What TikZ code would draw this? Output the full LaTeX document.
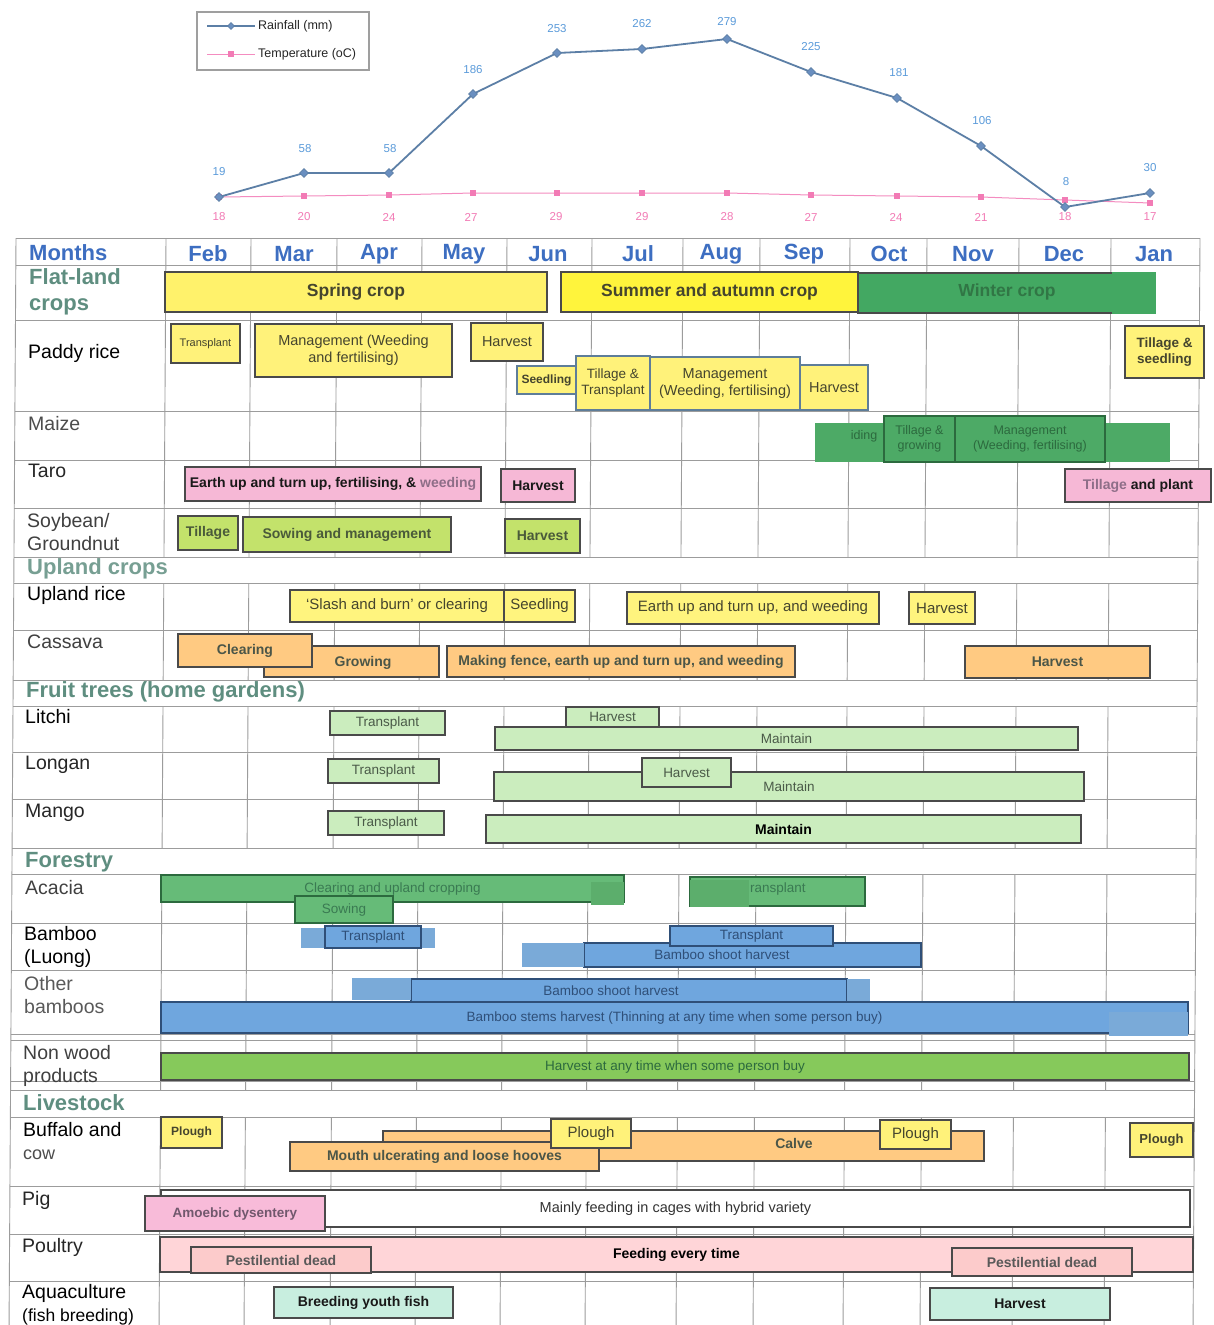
\documentclass[tikz,border=0pt]{standalone}
\usepackage{fontspec}
\setmainfont{Liberation Sans}
\usetikzlibrary{shapes.geometric}
\newcommand{\fsz}[2]{\fontsize{#1}{#2}\selectfont}
% bar node from its corner coordinates: name, x1, y1, x2, y2, style, text
\newcommand{\gbar}[7]{\node[#6, minimum width={#4pt-#2pt}, minimum height={#5pt-#3pt}] (#1) at ({(#2+#4)/2},{(#3+#5)/2}) {#7};}
\definecolor{gridc}{HTML}{9C9C9C}
\definecolor{boxln}{HTML}{4A4A4A}
\definecolor{cropY}{HTML}{FFF26B}
\definecolor{sumY}{HTML}{FFF43C}
\definecolor{padY}{HTML}{FFF27A}
\definecolor{winG}{HTML}{43A862}
\definecolor{maizeG}{HTML}{4DAA66}
\definecolor{taroP}{HTML}{F6B8D6}
\definecolor{taroW}{HTML}{8E6E88}
\definecolor{soyG}{HTML}{C3E26B}
\definecolor{uplY}{HTML}{FFF47E}
\definecolor{cassO}{HTML}{FFCA82}
\definecolor{fruitG}{HTML}{CBEDBE}
\definecolor{acaG}{HTML}{66BB78}
\definecolor{acaC}{HTML}{5CAE6C}
\definecolor{bambB}{HTML}{6FA6DE}
\definecolor{bambC}{HTML}{7AAAD8}
\definecolor{nwG}{HTML}{86C95B}
\definecolor{pigP}{HTML}{F8BBD9}
\definecolor{poulP}{HTML}{FFD5D8}
\definecolor{pestP}{HTML}{FCCBCB}
\definecolor{fishM}{HTML}{C8EEDF}
\definecolor{monthB}{HTML}{3D6EC1}
\definecolor{secG}{HTML}{5F8E80}
\definecolor{rainL}{HTML}{5C7FA6}
\definecolor{rainM}{HTML}{6A8FC0}
\definecolor{rainT}{HTML}{5B9BDA}
\definecolor{tempL}{HTML}{F48CC0}
\definecolor{tempT}{HTML}{F27BB5}
\definecolor{olT}{HTML}{45452E}
\definecolor{winT}{HTML}{2C6A3E}
\definecolor{soyT}{HTML}{4A5A3A}
\definecolor{cassT}{HTML}{4B5648}
\definecolor{fruT}{HTML}{4A5A48}
\definecolor{acaT}{HTML}{3A7A52}
\definecolor{bamT}{HTML}{2F4F78}
\definecolor{padB}{HTML}{5E7D99}
\begin{document}
\begin{tikzpicture}[x=1pt, y=-1pt,
  tline/.style={draw=gridc, line width=0.9pt},
  bx/.style={draw=boxln, line width=1.1pt, inner sep=1pt, align=center, text=olT, font=\fsz{14}{16}\bfseries},
  patch/.style={draw=none, inner sep=0pt},
  pbx/.style={bx, fill=padY, font=\fsz{14.5}{17}},
  mbx/.style={bx, fill=maizeG, draw=winT, text=winT, font=\fsz{12.5}{15}},
  sbx/.style={bx, fill=soyG, text=soyT},
  ubx/.style={bx, fill=uplY, text=olT, font=\fsz{15}{17}},
  obx/.style={bx, fill=cassO, text=cassT},
  fbx/.style={bx, fill=fruitG, text=fruT, font=\fsz{13.5}{16}},
  abx/.style={bx, fill=acaG, draw=winT, text=acaT, font=\fsz{13.5}{16}},
  bbx/.style={bx, fill=bambB, draw=bamT, text=bamT, font=\fsz{13.5}{16}},
  ybx/.style={bx, fill=padY, font=\fsz{15}{17}},
  lbl/.style={anchor=west, inner sep=0pt, align=left, text=black!85, font=\fsz{19.5}{23}},
  sec/.style={anchor=west, inner sep=0pt, text=secG, font=\fsz{22}{26}\bfseries},
  mon/.style={inner sep=0pt, text=monthB, font=\fsz{22}{24}\bfseries},
  rlab/.style={inner sep=0pt, text=rainT, font=\fsz{11.5}{13}},
  tlab/.style={inner sep=0pt, text=tempT, font=\fsz{11.5}{13}},
  rmark/.style={diamond, fill=rainM, draw=rainL, line width=0.8pt, inner sep=0pt, minimum size=9pt},
  tmark/.style={rectangle, fill=tempT, inner sep=0pt, minimum size=6pt}]

\fill[white] (0,0) rectangle (1214,1325);
\useasboundingbox (0,0) rectangle (1214,1325);

% ---------- rainfall and temperature chart ----------
\node[draw=gray!75, line width=1.5pt, minimum width=172pt, minimum height=58pt, inner sep=0pt] (legbox) at (283,41) {};
\coordinate (lra) at (207,26); \coordinate (lrb) at (255,26);
\coordinate (lta) at (207,54); \coordinate (ltb) at (255,54);
\draw[rainL, line width=1.6pt] (lra) -- (lrb);
\draw[tempL, line width=0.9pt] (lta) -- (ltb);
\node[rmark, minimum size=7pt] (lrm) at (231,26) {};
\node[tmark] (ltm) at (231,54) {};
\node[anchor=west, inner sep=0pt, font=\fsz{12.5}{14}, text=black!85] (lrt) at (258,26) {Rainfall (mm)};
\node[anchor=west, inner sep=0pt, font=\fsz{12.5}{14}, text=black!85] (ltt) at (258,54) {Temperature (oC)};

\foreach \i/\x/\y in {1/219/197, 2/304/173, 3/389/173, 4/473/94, 5/557/53, 6/642/49,
                      7/727/39, 8/811/72, 9/897/98, 10/981/146, 11/1065/207, 12/1150/193}
  \coordinate (r\i) at (\x,\y);
\foreach \i/\x/\y in {1/219/197, 2/304/196, 3/389/195, 4/473/193, 5/557/193, 6/642/193,
                      7/727/193, 8/811/195, 9/897/196, 10/981/197, 11/1065/200, 12/1150/203}
  \coordinate (t\i) at (\x,\y);
\draw[tempL, line width=1pt] (t1) \foreach \i in {2,...,12}{ -- (t\i)};
\draw[rainL, line width=1.8pt, line join=round] (r1) \foreach \i in {2,...,12}{ -- (r\i)};
\foreach \i in {1,...,12} {
  \node[tmark] (tm\i) at (t\i) {};
  \node[rmark] (rm\i) at (r\i) {};
}
\foreach \i/\x/\y/\v in {1/219/172/19, 2/305/149/58, 3/390/149/58, 4/473/70/186, 5/557/29/253,
                         6/642/24/262, 7/727/22/279, 8/811/47/225, 9/899/73/181, 10/982/121/106,
                         11/1066/182/8, 12/1150/168/30}
  \node[rlab] (rv\i) at (\x,\y) {\v};
\foreach \i/\x/\v in {1/219/18, 2/304/20, 3/389/24, 4/471/27, 5/556/29, 6/642/29,
                      7/727/28, 8/811/27, 9/896/24, 10/981/21, 11/1065/18, 12/1150/17}
  \node[tlab] (tv\i) at (\x,217) {\v};

% ---------- table grid ----------
\foreach \ya/\yb in {238/557, 583/680, 706/848, 874/1090, 1117/1325}
  \foreach \x in {166,251,337,422,507,592,683,760,850,927,1019,1111}
    \draw[tline] ({\x-0.0064*(\ya-238)},\ya) -- ({\x-0.0064*(\yb-238)},\yb);
\draw[tline] (16,238) -- ({16-0.0064*1087},1325);
\draw[tline] (1200,238) -- ({1200-0.0064*1087},1325);
\foreach \y in {238,265,320,411,460,508,557,583,630,680,706,752,799,848,874,923,970,1034,1040,1081,1090,1117,1186,1234,1281}
  \draw[tline] ({16-0.0064*(\y-238)},\y) -- ({1200-0.0064*(\y-238)},\y);

% ---------- month header and row labels ----------
\node[mon, anchor=west] (hMonths) at (29,253) {Months};
\foreach \m/\x in {Feb/208, Mar/294, Apr/379, May/464, Jun/548, Jul/638, Aug/721, Sep/804, Oct/889, Nov/973, Dec/1064, Jan/1154}
  \node[mon] (h\m) at (\x,254) {\m};

\node[sec, align=left] (sFlat) at (29,292) {Flat-land\\crops};
\node[lbl, text=black] (lPaddy) at (28,353) {Paddy rice};
\node[lbl, text=black!70] (lMaize) at (28,424) {Maize};
\node[lbl] (lTaro) at (28,471) {Taro};
\node[lbl, text=black!75] (lSoy) at (27,532) {Soybean/\\Groundnut};
\node[sec, text=secG!85] (sUpland) at (27,569) {Upland crops};
\node[lbl, text=black] (lUrice) at (27,595) {Upland rice};
\node[lbl, text=black!75] (lCassava) at (27,642) {Cassava};
\node[sec] (sFruit) at (26,692) {Fruit trees (home gardens)};
\node[lbl, text=black] (lLitchi) at (25,717) {Litchi};
\node[lbl] (lLongan) at (25,765) {Longan};
\node[lbl] (lMango) at (25,813) {Mango};
\node[sec] (sForest) at (25,862) {Forestry};
\node[lbl, text=black!75] (lAcacia) at (25,888) {Acacia};
\node[lbl, text=black] (lBamboo) at (24,947) {Bamboo\\(Luong)};
\node[lbl, text=black!65] (lOther) at (24,995) {Other\\bamboos};
\node[lbl, text=black!75] (lNonwood) at (23,1066) {Non wood\\products};
\node[sec] (sLive) at (23,1103) {Livestock};
\node[lbl, text=black] (lBuffalo) at (23,1141) {Buffalo and\\{\color{black!70}\fsz{18}{23}cow}};
\node[lbl] (lPig) at (22,1200) {Pig};
\node[lbl] (lPoultry) at (22,1247) {Poultry};
\node[lbl, text=black] (lAqua) at (22,1305) {Aquaculture\\{\fsz{17.5}{21}(fish breeding)}};

% ---------- flat-land crops ----------
\gbar{spring}{165}{272}{547}{312}{bx, fill=cropY, font=\fsz{17.5}{20}\bfseries}{Spring crop}
\gbar{summer}{561}{272}{858}{312}{bx, fill=sumY, font=\fsz{17.5}{20}\bfseries}{Summer and autumn crop}
\gbar{winter}{858}{273}{1114}{313}{bx, fill=winG}{}
\gbar{winpatch}{1112}{272}{1156}{314}{patch, fill=winG}{}
\node[inner sep=0pt, text=winT!80!winG, font=\fsz{17.5}{20}\bfseries] (wintxt) at (1007,292) {Winter crop};

% paddy rice
\gbar{pTr}{171}{324}{240}{363}{pbx, font=\fsz{11}{13}}{Transplant}
\gbar{pMg}{255}{324}{452}{377}{pbx}{Management (Weeding\\and fertilising)}
\gbar{pHv}{471}{323}{543}{361}{pbx}{Harvest}
\gbar{pSd}{517}{366}{576}{394}{pbx, draw=padB, font=\fsz{12}{14}\bfseries}{Seedling}
\gbar{pTT}{576}{356}{650}{410}{pbx, draw=padB, font=\fsz{13.5}{16}}{Tillage \&\\Transplant}
\gbar{pMg2}{650}{357}{800}{410}{pbx, draw=padB}{Management\\(Weeding, fertilising)}
\gbar{pHv2}{800}{365}{868}{410}{pbx, draw=padB}{Harvest}
\gbar{pTS}{1125}{326}{1204}{378}{pbx, font=\fsz{13.5}{16}\bfseries}{Tillage \&\\seedling}

% maize
\gbar{mzBack}{815}{423}{1170}{462}{patch, fill=maizeG}{}
\node[inner sep=0pt, text=winT, font=\fsz{12.5}{15}] (mzSd) at (864,436) {iding};
\gbar{mzTG}{884}{416}{955}{462}{mbx}{Tillage \&\\growing}
\gbar{mzMg}{955}{416}{1105}{462}{mbx}{Management\\(Weeding, fertilising)}

% taro
\gbar{tEa}{185}{467}{481}{501}{bx, fill=taroP, text=black!90}{Earth up and turn up, fertilising, \& {\color{taroW}weeding}}
\gbar{tHv}{501}{469}{575}{502}{bx, fill=taroP, text=black!90}{Harvest}
\gbar{tTP}{1065}{469}{1211}{502}{bx, fill=taroP, text=black!90}{{\color{taroW}Tillage} and plant}

% soybean / groundnut
\gbar{sTl}{178}{516}{238}{550}{sbx}{Tillage}
\gbar{sSw}{243}{517}{451}{552}{sbx}{Sowing and management}
\gbar{sHv}{505}{519}{580}{553}{sbx}{Harvest}

% ---------- upland crops ----------
\gbar{uSl}{290}{590}{504}{622}{ubx}{`Slash and burn' or clearing}
\gbar{uSd}{504}{590}{575}{622}{ubx}{Seedling}
\gbar{uEa}{627}{592}{879}{624}{ubx}{Earth up and turn up, and weeding}
\gbar{uHv}{909}{592}{975}{624}{ubx}{Harvest}

% cassava
\gbar{cGr}{264}{646}{439}{677}{obx}{}
\node[inner sep=0pt, text=cassT, font=\fsz{14}{16}\bfseries] (cGrT) at (363,663) {Growing};
\gbar{cCl}{178}{634}{312}{667}{obx}{Clearing}
\gbar{cMf}{447}{646}{795}{677}{obx}{Making fence, earth up and turn up, and weeding}
\gbar{cHv}{965}{646}{1150}{678}{obx}{Harvest}

% ---------- fruit trees ----------
\gbar{liTr}{330}{711}{445}{735}{fbx}{Transplant}
\gbar{liMt}{495}{727}{1078}{750}{fbx}{Maintain}
\gbar{liHv}{566}{707}{659}{727}{fbx}{Harvest}
\gbar{loTr}{328}{759}{439}{783}{fbx}{Transplant}
\gbar{loMt}{494}{772}{1084}{801}{fbx}{Maintain}
\gbar{loHv}{642}{758}{731}{787}{fbx}{Harvest}
\gbar{maTr}{328}{811}{444}{835}{fbx}{Transplant}
\gbar{maMt}{486}{815}{1081}{843}{fbx, text=black, font=\fsz{14}{16}\bfseries}{Maintain}

% ---------- forestry ----------
\gbar{acCl}{161}{875}{624}{902}{abx}{Clearing and upland cropping}
\gbar{acCp}{591}{882}{624}{905}{patch, fill=acaC}{}
\gbar{acSw}{295}{896}{393}{923}{abx}{Sowing}
\gbar{acTr}{690}{877}{865}{906}{abx}{}
\gbar{acTp}{690}{880}{749}{907}{patch, fill=acaC}{}
\node[anchor=west, inner sep=0pt, text=acaT, font=\fsz{13.5}{16}] (acTt) at (750,889) {ransplant};

% bamboo (Luong)
\gbar{buC1}{301}{928}{325}{948}{patch, fill=bambC}{}
\gbar{buC2}{421}{928}{435}{948}{patch, fill=bambC}{}
\gbar{buTr}{325}{926}{421}{948}{bbx}{Transplant}
\gbar{buSh}{584}{943}{921}{967}{bbx}{}
\gbar{buC3}{522}{943}{584}{967}{patch, fill=bambC}{}
\node[inner sep=0pt, text=bamT, font=\fsz{13.5}{16}] (buShT) at (722,955) {Bamboo shoot harvest};
\gbar{buTr2}{670}{926}{833}{946}{bbx}{Transplant}

% other bamboos
\gbar{obSh}{411}{979}{847}{1002}{bbx}{}
\gbar{obC1}{352}{978}{411}{1000}{patch, fill=bambC}{}
\gbar{obC2}{847}{979}{870}{1001}{patch, fill=bambC}{}
\node[inner sep=0pt, text=bamT, font=\fsz{13.5}{16}] (obShT) at (611,991) {Bamboo shoot harvest};
\gbar{obSt}{161}{1002}{1188}{1033}{bbx}{Bamboo stems harvest (Thinning at any time when some person buy)}
\gbar{obC3}{1109}{1012}{1188}{1036}{patch, fill=bambC}{}

% non wood products
\gbar{nwH}{161}{1053}{1189}{1080}{bx, fill=nwG, text=winT, font=\fsz{13.5}{16}}{Harvest at any time when some person buy}

% ---------- livestock ----------
\gbar{bfCv}{383}{1131}{984}{1161}{obx}{}
\node[inner sep=0pt, text=cassT, font=\fsz{14}{16}\bfseries] (bfCvT) at (794,1143) {Calve};
\gbar{bfMo}{290}{1142}{599}{1171}{obx}{Mouth ulcerating and loose hooves}
\gbar{bfP1}{161}{1117}{222}{1148}{ybx, font=\fsz{12}{14}\bfseries}{Plough}
\gbar{bfP2}{551}{1119}{631}{1148}{ybx}{Plough}
\gbar{bfP3}{880}{1120}{951}{1149}{ybx}{Plough}
\gbar{bfP4}{1130}{1123}{1193}{1157}{ybx, font=\fsz{13}{15}\bfseries}{Plough}

% pig
\gbar{pgMf}{161}{1190}{1190}{1227}{bx, fill=white, text=black!80, font=\fsz{14.5}{17}}{Mainly feeding in cages with hybrid variety}
\gbar{pgAm}{145}{1196}{325}{1231}{bx, fill=pigP, text=taroW!80!black, font=\fsz{13.5}{16}\bfseries}{Amoebic dysentery}

% poultry
\gbar{poFe}{160}{1237}{1193}{1272}{bx, fill=poulP, text=black}{Feeding every time}
\gbar{poP1}{191}{1247}{371}{1273}{bx, fill=pestP, text=black!65}{Pestilential dead}
\gbar{poP2}{952}{1248}{1132}{1276}{bx, fill=pestP, text=black!65}{Pestilential dead}

% aquaculture
\gbar{aqBr}{274}{1287}{453}{1318}{bx, fill=fishM, text=black!90}{Breeding youth fish}
\gbar{aqHv}{930}{1288}{1110}{1320}{bx, fill=fishM, text=black!90}{Harvest}
\end{tikzpicture}
\end{document}
